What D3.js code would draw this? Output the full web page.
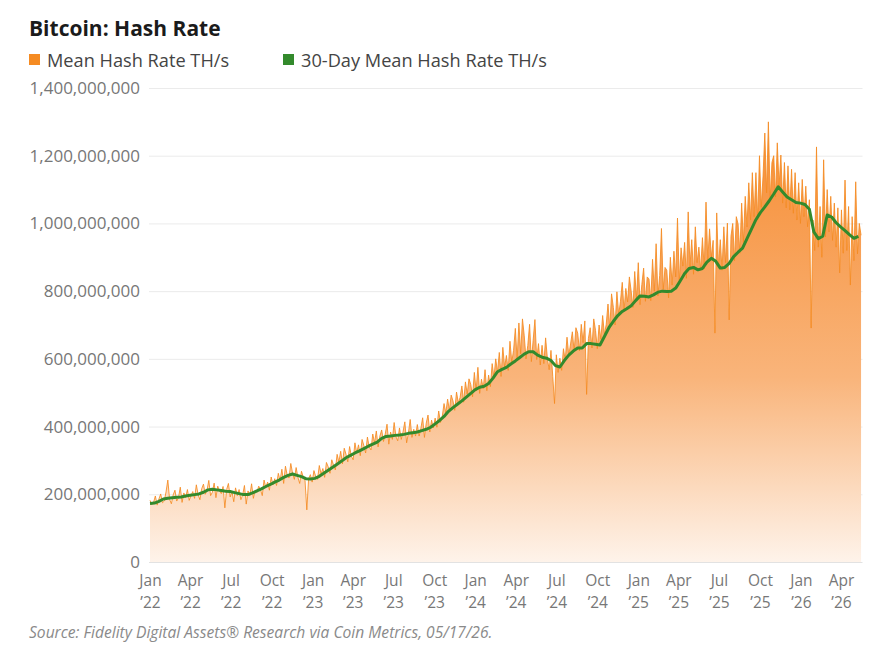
<!DOCTYPE html>
<html><head><meta charset="utf-8">
<script src="https://cdn.jsdelivr.net/npm/d3@7"></script>
<style>
html,body{margin:0;padding:0;background:#fff;}
svg{display:block;font-family:"Open Sans",sans-serif;}
</style></head>
<body><svg id="chart" width="871" height="651"></svg>
<script>
// ---------- DATA (values in millions of TH/s) ----------
const startDate = "2022-01-01";
const endDate = "2026-05-17";
const meanStepDays = 4;   // spacing of the daily-series samples
const avgStepDays = 10;   // spacing of the 30-day-mean samples

const meanHashRate = [
182,170,176,195,168,186,201,175,180,207,
242,185,172,198,212,180,190,221,176,204,
190,214,182,196,208,188,228,199,184,216,
230,200,212,241,196,206,233,190,224,210,
202,223,160,214,232,192,208,178,219,196,
214,184,198,226,171,210,196,231,188,212,
206,224,214,196,242,220,236,212,251,228,
246,226,262,240,274,232,283,256,248,291,
262,244,279,250,232,268,251,240,154,246,
258,236,270,252,244,285,260,276,250,294,
281,262,302,286,272,318,295,327,290,336,
318,296,341,312,302,352,322,346,314,362,
344,322,369,340,331,378,352,387,340,372,
390,356,378,407,348,384,362,412,370,358,
396,362,385,414,352,380,421,368,392,372,
406,372,395,426,368,410,434,384,419,396,
425,398,446,412,430,468,440,481,448,493,
476,448,502,470,486,520,472,532,496,541,
524,488,560,505,575,498,540,512,568,506,
552,518,586,545,600,560,619,548,634,575,
610,566,652,590,625,690,598,706,615,718,
668,600,640,702,592,655,716,598,645,582,
640,586,662,600,568,625,548,468,612,560,
602,566,630,596,664,610,644,680,622,692,
676,624,702,648,712,495,660,692,632,718,
684,630,700,658,728,672,702,762,690,792,
752,700,798,730,770,826,742,808,768,842,
800,752,858,776,884,760,820,868,770,842,
836,772,894,800,940,786,846,985,805,870,
862,780,900,818,918,842,1016,826,928,874,
944,838,1034,872,952,850,990,884,930,862,
958,866,1063,892,984,900,950,676,1031,870,
952,862,990,884,1001,715,962,1000,890,1020,
998,912,1060,944,1080,990,1120,1010,1150,1020,
1150,1010,1200,1048,1140,1267,1090,1300,1070,1180,
1200,1078,1238,1110,1202,1060,1180,1046,1170,1040,
1160,1030,1150,1010,1120,1000,1130,1020,1110,990,
1070,691,1010,920,1226,930,1050,900,1188,960,
1100,975,1080,950,1060,930,1046,854,1040,912,
1128,920,1050,818,1020,890,1123,910,1000,965
];

const avg30Day = [
173,174,179,186,188,190,191,192,195,197,
199,201,206,213,215,213,211,209,208,205,
202,199,199,204,210,216,223,229,236,242,
250,256,260,256,252,246,245,247,253,262,
271,280,289,298,308,315,322,328,335,342,
348,354,365,371,372,374,375,377,380,382,
384,388,392,398,408,418,430,445,456,466,
476,487,498,509,516,519,527,543,562,569,
575,585,594,604,614,621,621,611,605,602,
595,580,576,595,611,623,632,632,645,645,
643,641,666,692,711,728,740,748,757,772,
786,785,783,789,797,800,799,800,809,830,
852,867,870,863,867,886,897,888,868,870,
882,902,915,927,955,983,1011,1032,1049,1067,
1087,1108,1093,1078,1070,1062,1060,1056,1042,975,
955,962,1025,1019,1002,990,979,967,956,962
];

const yTickValues = [0, 200000000, 400000000, 600000000, 800000000, 1000000000, 1200000000, 1400000000];
const titleText = "Bitcoin: Hash Rate";
const seriesNames = ["Mean Hash Rate TH/s", "30-Day Mean Hash Rate TH/s"];
const seriesColors = ["#f58b22", "#338a2c"];
const sourceText = "Source: Fidelity Digital Assets\u00AE Research via Coin Metrics, 05/17/26.";

// ---------- BUILD ----------
const parse = d3.utcParse("%Y-%m-%d");
const t0 = parse(startDate);
const dayMs = 86400000;
const meanData = meanHashRate.map((v, i) => ({date: new Date(+t0 + i * meanStepDays * dayMs), value: v * 1e6}));
const avgData = avg30Day.map((v, i) => ({date: new Date(+t0 + i * avgStepDays * dayMs), value: v * 1e6}));

const svg = d3.select("#chart");
const margin = {left: 150, right: 9.5, top: 88, bottom: 89};
const W = 871, H = 651;

const x = d3.scaleUtc().domain([t0, parse(endDate)]).range([margin.left, W - margin.right]);
const y = d3.scaleLinear().domain([0, 1.4e9]).range([H - margin.bottom, margin.top]);

// gradient
const defs = svg.append("defs");
const grad = defs.append("linearGradient").attr("id", "areaGrad")
  .attr("gradientUnits", "userSpaceOnUse")
  .attr("x1", 0).attr("x2", 0).attr("y1", y(1.3e9)).attr("y2", y(0));
grad.append("stop").attr("offset", "0%").attr("stop-color", "#f68d33");
grad.append("stop").attr("offset", "58%").attr("stop-color", "#f9b47a");
grad.append("stop").attr("offset", "100%").attr("stop-color", "#fef3ea");

// title & legend
svg.append("text").attr("x", 29).attr("y", 36).text(titleText)
  .attr("font-size", 21).attr("font-weight", 700).attr("fill", "#1b1b1b");

const legendX = [29, 283];
seriesNames.forEach((name, i) => {
  svg.append("rect").attr("x", legendX[i]).attr("y", 54).attr("width", 11).attr("height", 11)
    .attr("fill", seriesColors[i]);
  svg.append("text").attr("x", legendX[i] + 18).attr("y", 66.5).text(name)
    .attr("font-size", 18.2).attr("fill", "#444");
});

// grid
svg.append("g").selectAll("line").data(yTickValues).join("line")
  .attr("x1", margin.left - 1).attr("x2", W - margin.right + 1)
  .attr("y1", d => y(d) + 0.5).attr("y2", d => y(d) + 0.5)
  .attr("stroke", d => d === 0 ? "#e2e2e2" : "#ebebeb").attr("stroke-width", 1);

// y axis
const yAxis = svg.append("g").attr("transform", `translate(${margin.left - 10},0)`)
  .call(d3.axisLeft(y).tickValues(yTickValues).tickFormat(d3.format(",")).tickSize(0).tickPadding(0));
yAxis.select(".domain").remove();
yAxis.selectAll("text").attr("font-size", 17).attr("fill", "#777").attr("font-family", "Open Sans, sans-serif");

// area
const area = d3.area().x(d => x(d.date)).y0(y(0)).y1(d => y(d.value));
svg.append("path").datum(meanData).attr("d", area).attr("fill", "url(#areaGrad)");

const lineMean = d3.line().x(d => x(d.date)).y(d => y(d.value));
svg.append("path").datum(meanData).attr("d", lineMean)
  .attr("fill", "none").attr("stroke", seriesColors[0]).attr("stroke-width", 1).attr("stroke-opacity", 0.85);

const lineAvg = d3.line().x(d => x(d.date)).y(d => y(d.value));
svg.append("path").datum(avgData).attr("d", lineAvg)
  .attr("fill", "none").attr("stroke", seriesColors[1]).attr("stroke-width", 3).attr("stroke-linejoin", "round");

// x axis
const xTicks = d3.utcMonth.every(3).range(t0, new Date(+parse(endDate) + dayMs));
const xAxis = svg.append("g").attr("transform", `translate(0,${H - margin.bottom})`)
  .call(d3.axisBottom(x).tickValues(xTicks).tickSize(0).tickPadding(0).tickFormat(""));
xAxis.select(".domain").remove();
xAxis.selectAll(".tick").each(function(d) {
  const g = d3.select(this);
  g.selectAll("text").remove();
  g.append("text").attr("text-anchor", "middle").attr("fill", "#777")
    .attr("font-size", 15.5).attr("font-family", "Open Sans, sans-serif")
    .attr("y", 24).text(d3.utcFormat("%b")(d));
  g.append("text").attr("text-anchor", "middle").attr("fill", "#777")
    .attr("font-size", 15.5).attr("font-family", "Open Sans, sans-serif")
    .attr("y", 45.5).text("\u2019" + d3.utcFormat("%y")(d));
});

// source
svg.append("text").attr("x", 29).attr("y", 638).text(sourceText)
  .attr("font-size", 15.6).attr("font-style", "italic").attr("fill", "#8a8a8a");
</script></body></html>
